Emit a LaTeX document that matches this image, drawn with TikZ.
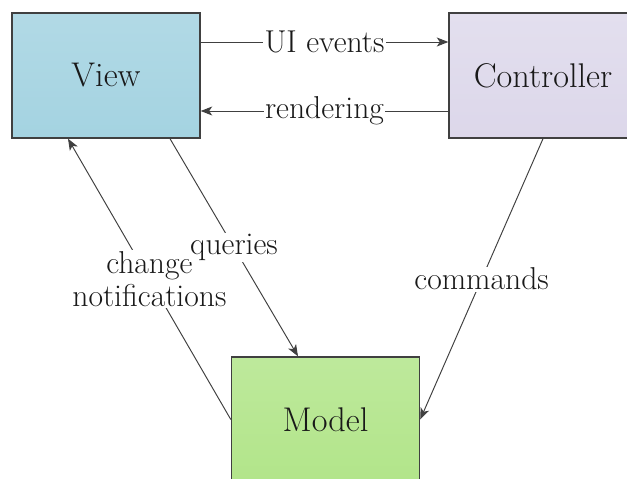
\documentclass[tikz,border=0pt]{standalone}
\usepackage{xcolor}
\usepackage{tikz}
\usetikzlibrary{arrows.meta,positioning}

\definecolor{viewblue}{RGB}{164,211,225}
\definecolor{ctrlpurple}{RGB}{220,215,234}
\definecolor{modelgreen}{RGB}{178,229,138}
\definecolor{linegray}{RGB}{64,64,64}

\begin{document}
\begin{tikzpicture}[
    box/.style={rectangle, draw=linegray, line width=0.8pt, minimum width=3.76cm, minimum height=2.5cm,
        font=\fontsize{19.5}{23}\selectfont, text=black!90},
    conn/.style={draw=linegray, line width=0.55pt, -{Stealth[length=2.3mm, width=1.8mm, inset=0.6mm]}},
    lbl/.style={fill=white, inner sep=0.8pt, align=center, font=\fontsize{18}{18.5}\selectfont, text=black!90}
]
    % Frame of the picture
    \clip (0,0) rectangle (12.54,-9.56);

    % The three parts
    \node[box, top color=viewblue!85!white, bottom color=viewblue] (view) at (2.12,-1.51) {View};
    \node[box, top color=ctrlpurple!80!white, bottom color=ctrlpurple] (controller) at (10.86,-1.51) {Controller};
    \node[box, top color=modelgreen!85!white, bottom color=modelgreen] (model) at (6.51,-8.39) {Model};

    % View <-> Controller
    \draw[conn] ([yshift=0.67cm]view.east) -- node[lbl] {UI events} ([yshift=0.67cm]controller.west);
    \draw[conn] ([yshift=-0.71cm]controller.west) -- node[lbl] {rendering} ([yshift=-0.71cm]view.east);

    % Model links
    \draw[conn] (model.west) -- node[lbl] {change\\notifications} ([xshift=-0.76cm]view.south);
    \draw[conn] ([xshift=1.28cm]view.south) -- node[lbl] {queries} ([xshift=-0.55cm]model.north);
    \draw[conn] (controller.south) -- node[lbl] {commands} (model.east);
\end{tikzpicture}
\end{document}
